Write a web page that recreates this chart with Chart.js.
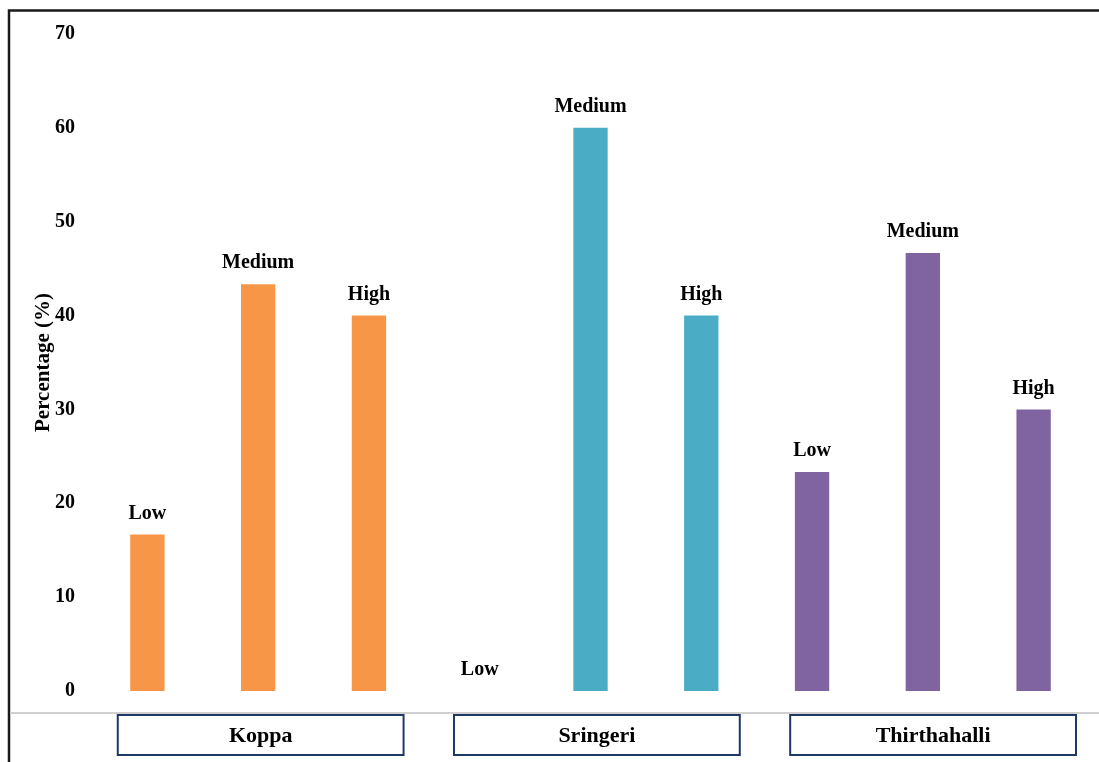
<!DOCTYPE html>
<html>
<head>
  <title>Percentage by Taluk</title>
  <style>
    html, body {
      margin: 0;
      padding: 0;
      background: #fff;
    }
    #wrap {
      width: 1099px;
      height: 762px;
      position: relative;
    }
  </style>
</head>
<body>
  <div id="wrap">
    <canvas id="chart"></canvas>
  </div>

  <script src="https://cdn.jsdelivr.net/npm/chart.js"></script>
  <script>
    const groups = ['Koppa', 'Sringeri', 'Thirthahalli'];
    const levels = ['Low', 'Medium', 'High'];
    const koppaValues = [16.67, 43.33, 40];
    const sringeriValues = [0, 60, 40];
    const thirthahalliValues = [23.33, 46.67, 30];
    const groupColors = ['#F79646', '#4BACC6', '#8064A2'];
    const yTicks = [0, 10, 20, 30, 40, 50, 60, 70];

    const allValues = [koppaValues, sringeriValues, thirthahalliValues];
    const labels = [];
    const values = [];
    const colors = [];
    groups.forEach((g, gi) => {
      levels.forEach((lv, li) => {
        labels.push(g + ' ' + lv);
        values.push(allValues[gi][li]);
        colors.push(groupColors[gi]);
      });
    });

    const serif = '"Liberation Serif", "Times New Roman", serif';

    // labels above bars, group boxes and frame lines
    const decorPlugin = {
      id: 'decor',
      afterDatasetsDraw(chart) {
        const ctx = chart.ctx;
        const meta = chart.getDatasetMeta(0);
        ctx.save();
        ctx.fillStyle = '#000';
        ctx.font = 'bold 20px ' + serif;
        ctx.textAlign = 'center';
        ctx.textBaseline = 'middle';
        meta.data.forEach((bar, i) => {
          ctx.fillText(levels[i % 3], bar.x, bar.y - 21);
        });
        ctx.restore();
      },
      afterDraw(chart) {
        const ctx = chart.ctx;
        const x = chart.scales.x;
        const step = x.getPixelForValue(1) - x.getPixelForValue(0);
        ctx.save();
        // outer frame
        ctx.strokeStyle = '#1a1a1a';
        ctx.lineWidth = 2.5;
        ctx.beginPath();
        ctx.moveTo(9, 762);
        ctx.lineTo(9, 10.5);
        ctx.lineTo(1099, 10.5);
        ctx.stroke();
        // baseline under plot
        ctx.strokeStyle = '#d0d0d0';
        ctx.lineWidth = 2;
        ctx.beginPath();
        ctx.moveTo(10, 713);
        ctx.lineTo(1099, 713);
        ctx.stroke();
        // group boxes
        const first = x.getPixelForValue(1) + 2.5;
        groups.forEach((g, gi) => {
          const cx = first + gi * step * 3.035;
          const w = step * 2.58;
          ctx.fillStyle = '#fff';
          ctx.fillRect(cx - w / 2, 715, w, 40);
          ctx.strokeStyle = '#1F3864';
          ctx.lineWidth = 2;
          ctx.strokeRect(cx - w / 2, 715, w, 40);
          ctx.fillStyle = '#000';
          ctx.font = 'bold 22px ' + serif;
          ctx.textAlign = 'center';
          ctx.textBaseline = 'middle';
          ctx.fillText(g, cx, 736);
        });
        ctx.restore();
      }
    };

    new Chart(document.getElementById('chart'), {
      type: 'bar',
      data: {
        labels: labels,
        datasets: [{
          data: values,
          backgroundColor: colors,
          borderWidth: 0,
          barPercentage: 0.31,
          categoryPercentage: 1
        }]
      },
      options: {
        responsive: true,
        maintainAspectRatio: false,
        animation: false,
        layout: {
          padding: { top: 34, right: 10, bottom: 71, left: 0 }
        },
        plugins: {
          legend: { display: false },
          tooltip: { enabled: false }
        },
        scales: {
          x: {
            display: false
          },
          y: {
            min: 0,
            max: 70,
            afterFit(scale) { scale.width = 92; },
            afterBuildTicks(scale) {
              scale.ticks = yTicks.map(v => ({ value: v }));
            },
            border: { display: false },
            grid: { display: false, drawTicks: false },
            ticks: {
              padding: 17,
              color: '#000',
              font: { family: serif, size: 20, weight: 'bold' }
            },
            title: {
              display: true,
              text: 'Percentage (%)',
              color: '#000',
              padding: { top: 31, bottom: 0 },
              font: { family: serif, size: 21, weight: 'bold' }
            }
          }
        }
      },
      plugins: [decorPlugin]
    });
  </script>
</body>
</html>
